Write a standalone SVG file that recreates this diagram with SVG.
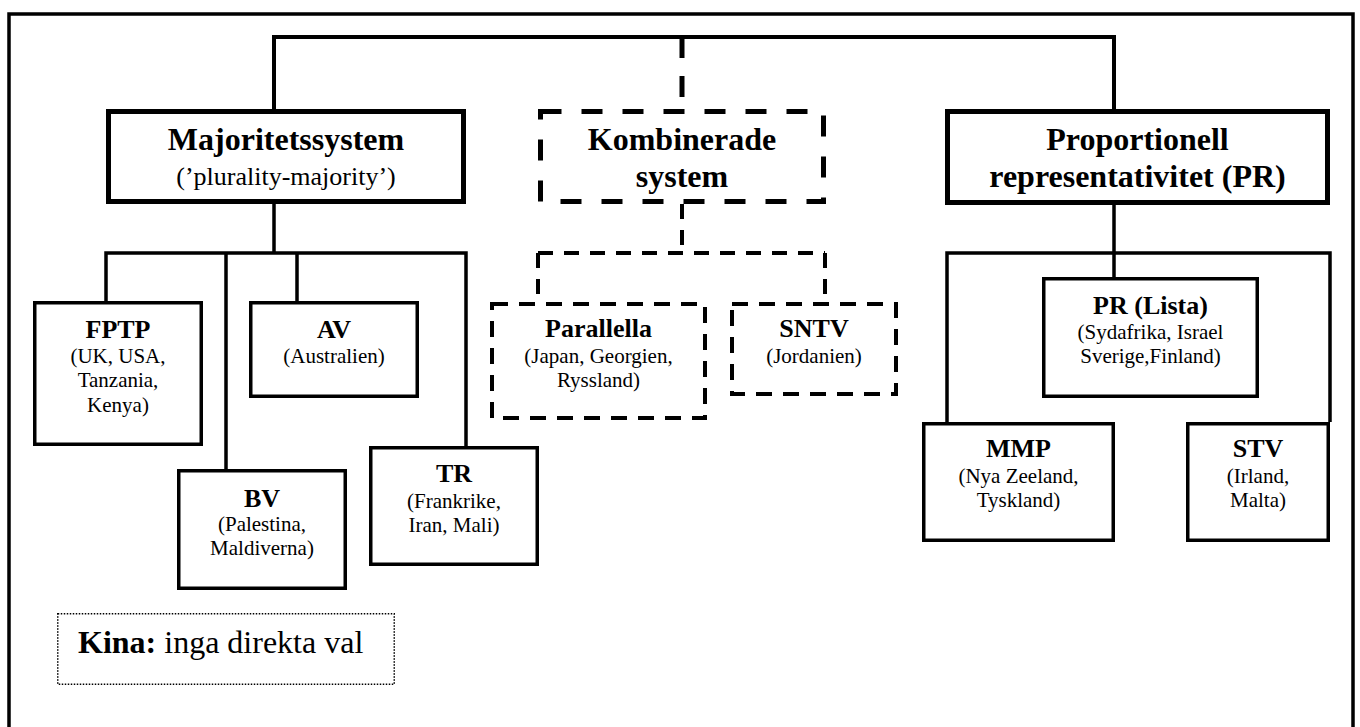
<svg xmlns="http://www.w3.org/2000/svg" width="1360" height="727" viewBox="0 0 1360 727">
<style>
.frame{fill:none;stroke:#000;stroke-width:3.5}
.main{fill:#fff;stroke:#000;stroke-width:5}
.mainDash{fill:#fff;stroke:#000;stroke-width:5;stroke-dasharray:21 20}
.sub{fill:#fff;stroke:#000;stroke-width:3.5}
.subDash{fill:#fff;stroke:#000;stroke-width:4;stroke-dasharray:16 11}
.bus{fill:none;stroke:#000;stroke-width:4}
.busDash{fill:none;stroke:#000;stroke-width:5;stroke-dasharray:21 18}
.ln{fill:none;stroke:#000;stroke-width:3.5}
.lnDash{fill:none;stroke:#000;stroke-width:4;stroke-dasharray:15 11}
.note{fill:#fff;stroke:#000;stroke-width:1.5;stroke-dasharray:1.5 1.5}
text{font-family:"Liberation Serif","Times New Roman",serif;fill:#000;text-anchor:middle}
.t1{font-size:32px;font-weight:bold}
.t1s{font-size:26px}
.t2{font-size:26px;font-weight:bold}
.t2s{font-size:21px}
</style>
<rect class="frame" x="9" y="14" width="1344" height="740"/>
<g id="connectors">
<path class="bus" d="M274,109 V37 H1114 V109"/>
<path class="busDash" d="M682,37 V109"/>
<path class="ln" d="M274,204 V253 M104.25,253 H467.75 M106,253 V301 M226,253 V469 M297,253 V301 M466,253 V446"/>
<path class="lnDash" d="M682,204 V253 M538,253 H825 M538,253 V302 M825,253 V302"/>
<path class="ln" d="M1114,205 V253 M945.25,253 H1331.75 M1114,253 V277 M947,253 V422 M1330,253 V422"/>
</g>
<g id="majoritetssystem">
<rect class="main" x="108.5" y="111.5" width="355" height="90"/>
<text class="t1" x="286" y="150">Majoritetssystem</text>
<text class="t1s" x="286" y="185">(’plurality-majority’)</text>
</g>
<g id="kombinerade">
<rect class="mainDash" x="540.5" y="111.5" width="283" height="90"/>
<text class="t1" x="682" y="150">Kombinerade</text>
<text class="t1" x="682" y="187">system</text>
</g>
<g id="proportionell">
<rect class="main" x="947.5" y="111.5" width="380" height="91"/>
<text class="t1" x="1137.5" y="150">Proportionell</text>
<text class="t1" x="1137.5" y="187">representativitet (PR)</text>
</g>
<g id="fptp">
<rect class="sub" x="34.75" y="302.75" width="166.5" height="141.5"/>
<text class="t2" x="118" y="338">FPTP</text>
<text class="t2s" x="118" y="363">(UK, USA,</text>
<text class="t2s" x="118" y="387">Tanzania,</text>
<text class="t2s" x="118" y="412">Kenya)</text>
</g>
<g id="av">
<rect class="sub" x="250.75" y="302.75" width="166.5" height="93.5"/>
<text class="t2" x="334" y="338">AV</text>
<text class="t2s" x="334" y="363">(Australien)</text>
</g>
<g id="bv">
<rect class="sub" x="178.75" y="470.75" width="166.5" height="117.5"/>
<text class="t2" x="262" y="507">BV</text>
<text class="t2s" x="262" y="531">(Palestina,</text>
<text class="t2s" x="262" y="555">Maldiverna)</text>
</g>
<g id="tr">
<rect class="sub" x="370.75" y="447.75" width="166.5" height="116.5"/>
<text class="t2" x="454" y="482">TR</text>
<text class="t2s" x="454" y="508">(Frankrike,</text>
<text class="t2s" x="454" y="532">Iran, Mali)</text>
</g>
<g id="parallella">
<rect class="subDash" x="492" y="304" width="213" height="114"/>
<text class="t2" x="598.5" y="337">Parallella</text>
<text class="t2s" x="598.5" y="363">(Japan, Georgien,</text>
<text class="t2s" x="598.5" y="387">Ryssland)</text>
</g>
<g id="sntv">
<rect class="subDash" x="732" y="304" width="164" height="90"/>
<text class="t2" x="814" y="337">SNTV</text>
<text class="t2s" x="814" y="363">(Jordanien)</text>
</g>
<g id="pr-lista">
<rect class="sub" x="1043.75" y="278.75" width="213.5" height="117.5"/>
<text class="t2" x="1150.5" y="314">PR (Lista)</text>
<text class="t2s" x="1150.5" y="339">(Sydafrika, Israel</text>
<text class="t2s" x="1150.5" y="363">Sverige,Finland)</text>
</g>
<g id="mmp">
<rect class="sub" x="923.75" y="423.75" width="189.5" height="116.5"/>
<text class="t2" x="1018.5" y="457">MMP</text>
<text class="t2s" x="1018.5" y="483">(Nya Zeeland,</text>
<text class="t2s" x="1018.5" y="507">Tyskland)</text>
</g>
<g id="stv">
<rect class="sub" x="1187.75" y="423.75" width="140.5" height="116.5"/>
<text class="t2" x="1258" y="457">STV</text>
<text class="t2s" x="1258" y="483">(Irland,</text>
<text class="t2s" x="1258" y="507">Malta)</text>
</g>
<g id="kina">
<rect class="note" x="57.75" y="613.75" width="336.5" height="70.5"/>
<text x="78" y="653" style="font-size:32px;text-anchor:start"><tspan font-weight="bold">Kina:</tspan> inga direkta val</text>
</g>
</svg>
